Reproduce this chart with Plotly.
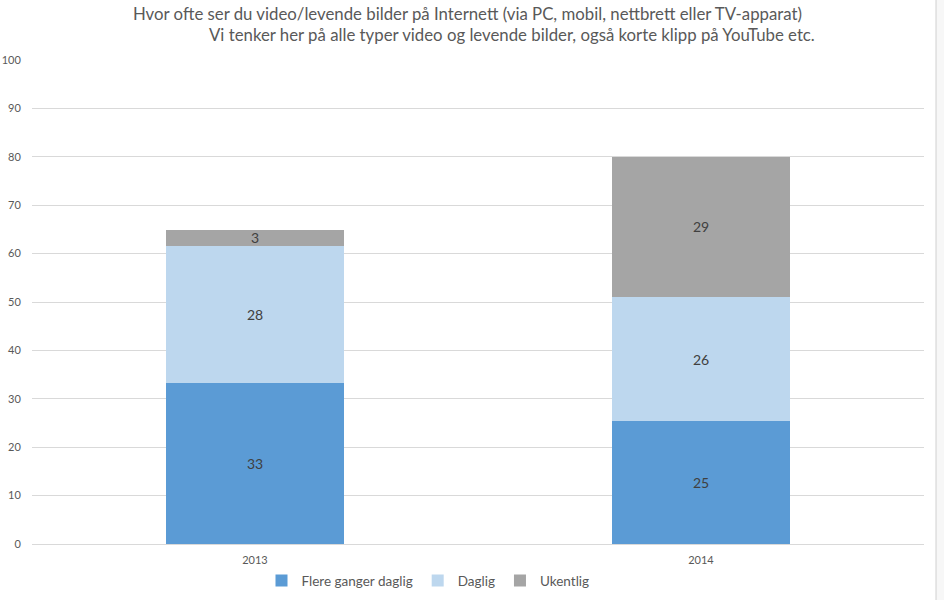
import plotly.graph_objects as go

years = ["2013", "2014"]
flere = [33.3, 25.4]
daglig = [28.3, 25.6]
ukentlig = [3.3, 29.0]
series_names = ["Flere ganger daglig", "Daglig", "Ukentlig"]
colors = ["#5B9BD5", "#BDD7EE", "#A5A5A5"]
title1 = "Hvor ofte ser du video/levende bilder på Internett (via PC, mobil, nettbrett eller TV-apparat)"
title2 = "Vi tenker her på alle typer video og levende bilder, også korte klipp på YouTube etc."

FONT = "Lato, Liberation Sans, sans-serif"

fig = go.Figure()
for name, vals, col in zip(series_names, [flere, daglig, ukentlig], colors):
    fig.add_trace(go.Bar(
        x=years, y=vals, name=name, marker=dict(color=col, line=dict(width=0)),
        text=[f"{round(v):d}" for v in vals], textposition="inside",
        insidetextanchor="middle", textangle=0,
        textfont=dict(color="#404040", size=14, family=FONT),
        hoverinfo="skip",
    ))

fig.update_layout(
    barmode="stack", bargap=0.6,
    width=944, height=600,
    margin=dict(l=32, r=20, t=60, b=56, autoexpand=False),
    paper_bgcolor="white", plot_bgcolor="white",
    uniformtext=dict(minsize=14, mode="show"),
    font=dict(family=FONT, color="#595959"),
    xaxis=dict(showgrid=False, showline=True, linecolor="#D9D9D9", linewidth=1,
               automargin=False,
               tickfont=dict(size=11, color="#595959"), ticks="outside", ticklen=6,
               tickcolor="rgba(0,0,0,0)"),
    yaxis=dict(range=[0, 100], dtick=10, showgrid=True, gridcolor="#D9D9D9",
               zeroline=False, showline=False, automargin=False,
               tickfont=dict(size=11, color="#595959"), ticks="outside", ticklen=8,
               tickcolor="rgba(0,0,0,0)"),
    legend=dict(orientation="h", x=(428 - 32) / 892, xanchor="center", y=-0.076, yanchor="middle",
                font=dict(size=13.5, color="#595959"), itemwidth=30, traceorder="normal"),
    showlegend=True,
)

fig.add_annotation(text=title1, xref="paper", yref="paper",
                   x=(467 - 32) / 892, y=(544 - 14) / 484, xanchor="center", yanchor="middle",
                   showarrow=False, font=dict(size=16.8, color="#595959", family=FONT))
fig.add_annotation(text=title2, xref="paper", yref="paper",
                   x=(512 - 32) / 892, y=(544 - 34) / 484, xanchor="center", yanchor="middle",
                   showarrow=False, font=dict(size=16.8, color="#595959", family=FONT))

# right border strip
fig.add_shape(type="rect", xref="paper", yref="paper",
              x0=(936 - 32) / 892, x1=(944 - 32) / 892, y0=-56 / 484, y1=604 / 484,
              fillcolor="#F7F7F7", line=dict(width=0), layer="below")
fig.add_shape(type="line", xref="paper", yref="paper",
              x0=(936 - 32) / 892, x1=(936 - 32) / 892, y0=-56 / 484, y1=604 / 484,
              line=dict(color="#D0D0D0", width=1))

fig.write_html("out.html")
